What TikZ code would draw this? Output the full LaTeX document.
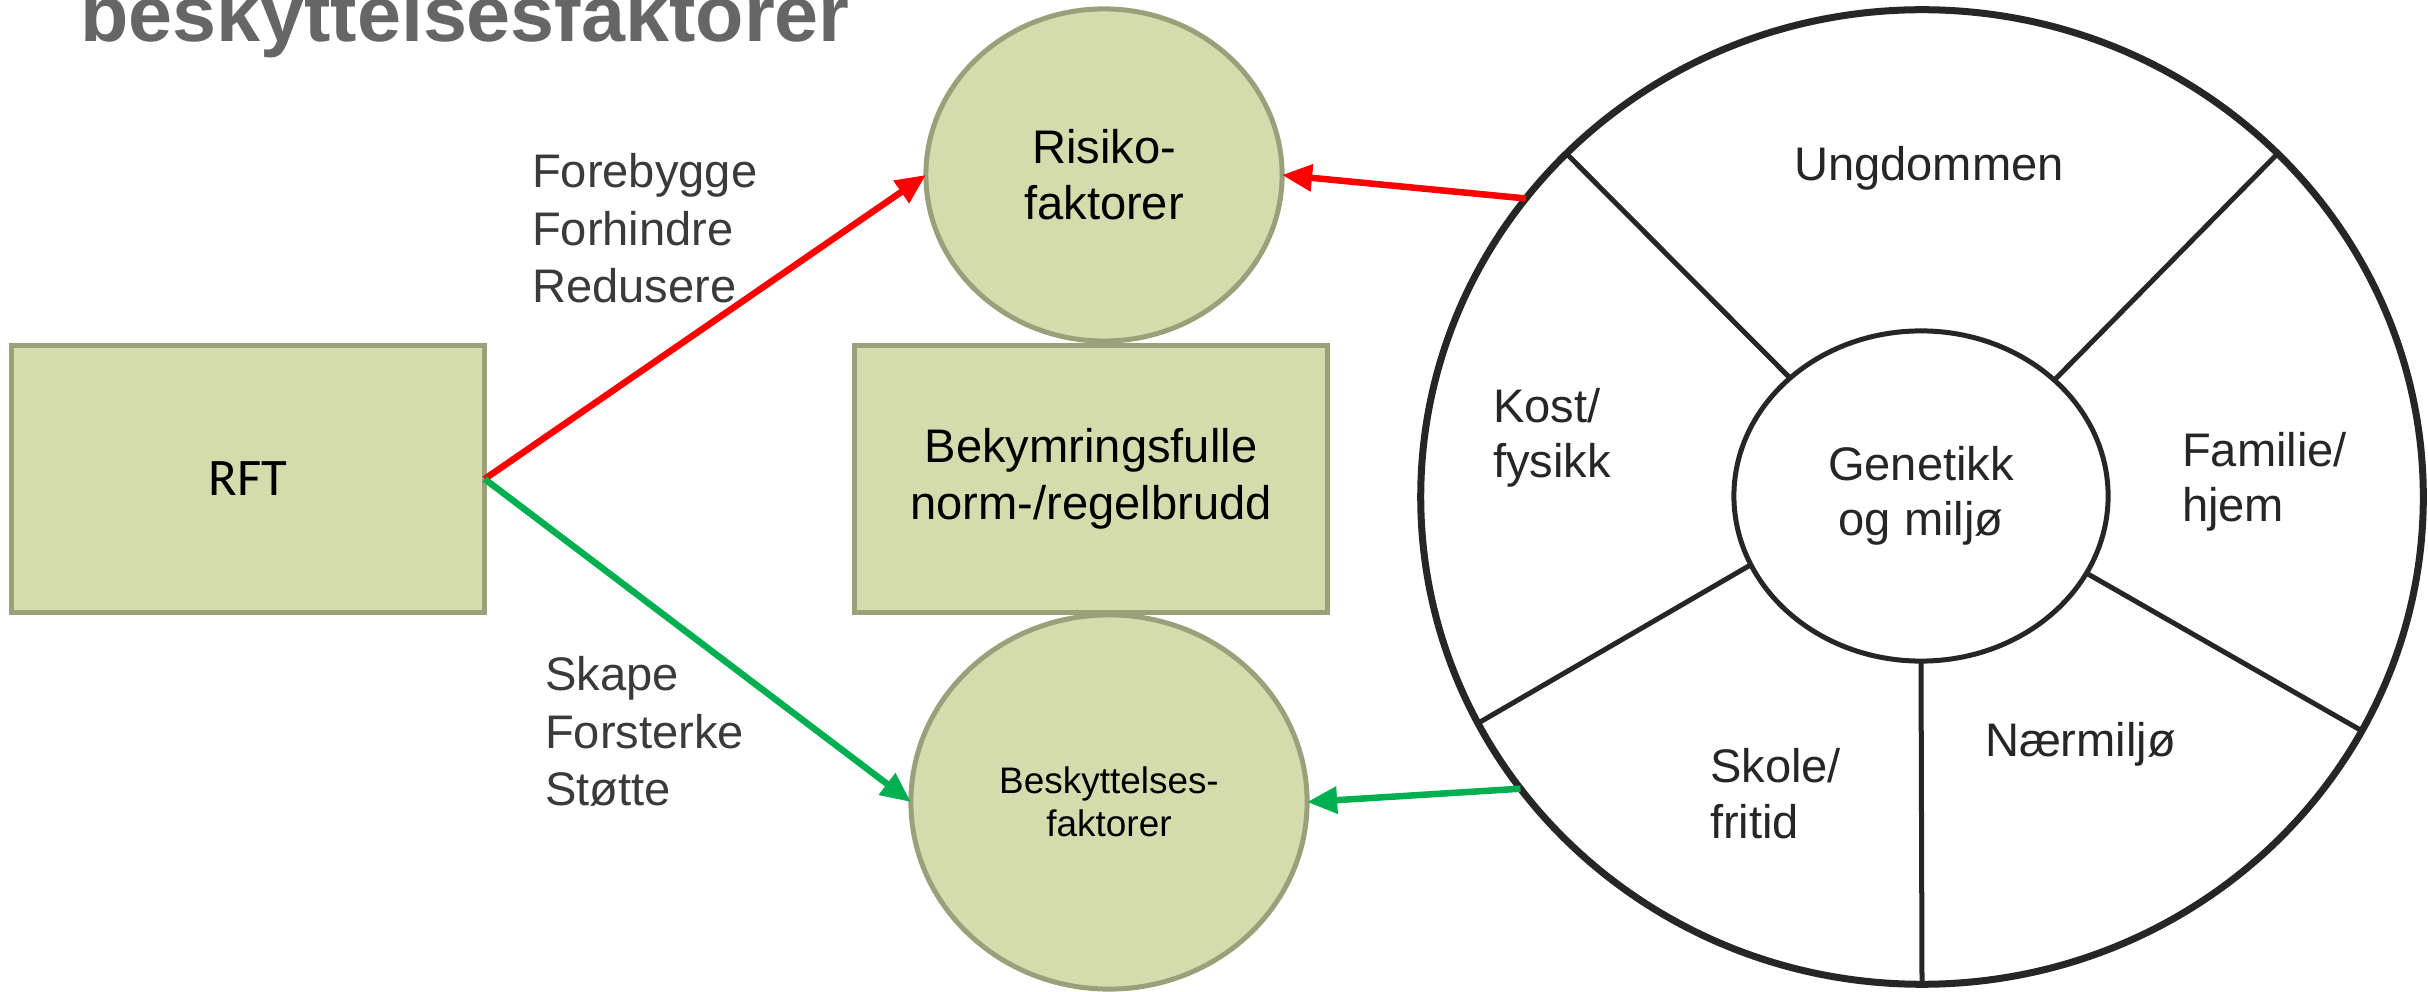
\documentclass[tikz,border=0pt]{standalone}
\usepackage{fontspec}
\setmainfont{Liberation Sans}
\newfontfamily\rftfont{Carlito}
\usetikzlibrary{arrows.meta,shapes.geometric}
\definecolor{olivefill}{HTML}{D4DBAD}
\definecolor{oliveline}{HTML}{9BA07B}
\definecolor{wheelline}{HTML}{262626}
\definecolor{labelgray}{HTML}{3A3A3A}
\definecolor{titlegray}{HTML}{666666}
\definecolor{arrowred}{HTML}{FF0000}
\definecolor{arrowgreen}{HTML}{00B050}

\begin{document}
\begin{tikzpicture}[x=0.01cm, y=-0.01cm,
  every node/.style={inner sep=0pt, outer sep=0pt},
  factorbox/.style={draw=oliveline, fill=olivefill, line width=0.05cm, minimum width=4.73cm, minimum height=2.67cm},
  factorball/.style={ellipse, draw=oliveline, fill=olivefill, line width=0.05cm, align=center},
  sector/.style={font=\fontsize{13.4}{15.8}\selectfont, text=wheelline, align=left, anchor=base west},
  verbs/.style={font=\fontsize{13.4}{16.4}\selectfont, text=labelgray, align=left, anchor=base west},
  push/.style={line width=0.065cm, -{Triangle[length=0.3cm,width=0.26cm]}},
  spoke/.style={draw=wheelline, line width=0.05cm}]
\useasboundingbox (0,0) rectangle (2428,992);

\node[anchor=base west, font=\fontsize{22.5}{27}\selectfont\bfseries, text=titlegray] (title) at (80,42) {beskyttelsesfaktorer};

% left side
\node[factorbox, font=\rftfont\fontsize{15}{18}\selectfont] (rft) at (248,479) {RFT};
\node[factorbox, align=center, font=\fontsize{13.4}{16.2}\selectfont] (worry) at (1091,479) {Bekymringsfulle\\norm-/regelbrudd};
\node[factorball, minimum width=3.56cm, minimum height=3.32cm, font=\fontsize{13.4}{15.9}\selectfont] (risk) at (1104,175) {Risiko-\\faktorer};
\node[factorball, minimum width=3.96cm, minimum height=3.74cm, font=\fontsize{10.5}{12.2}\selectfont] (prot) at (1109,802) {Beskyttelses-\\faktorer};

% last line sits on the given point
\node[verbs] (prevent) at (532,303) {Forebygge\\Forhindre\\Redusere};
\node[verbs] (build) at (545,806) {Skape\\Forsterke\\Støtte};

% the wheel
\node[ellipse, draw=wheelline, line width=0.07cm, minimum width=10.02cm, minimum height=9.74cm] (wheel) at (1922,497) {};
\node[ellipse, draw=wheelline, line width=0.05cm, minimum width=3.74cm, minimum height=3.30cm, align=center, font=\fontsize{13.4}{15.8}\selectfont, text=wheelline] (core) at (1921,496) {Genetikk\\og miljø};
\foreach \i/\o in {138/136, 41/44, 335/332, 270/270, 202/207}
  \draw[spoke] (core.\i) -- (wheel.\o);

\node[sector, anchor=base] (youth) at (1929,181) {Ungdommen};
\node[sector] (diet) at (1493,478) {Kost/\\fysikk};
\node[sector] (home) at (2182,522) {Familie/\\hjem};
\node[sector] (local) at (1985,757) {Nærmiljø};
\node[sector] (school) at (1710,838) {Skole/\\fritid};

% arrows
\draw[push, arrowred] (rft.east) -- (risk.west);
\draw[push, arrowgreen] (rft.east) -- (prot.west);
\draw[push, arrowred] (wheel.143) -- (risk.east);
\draw[push, arrowgreen] (wheel.216) -- (prot.east);
\end{tikzpicture}
\end{document}
